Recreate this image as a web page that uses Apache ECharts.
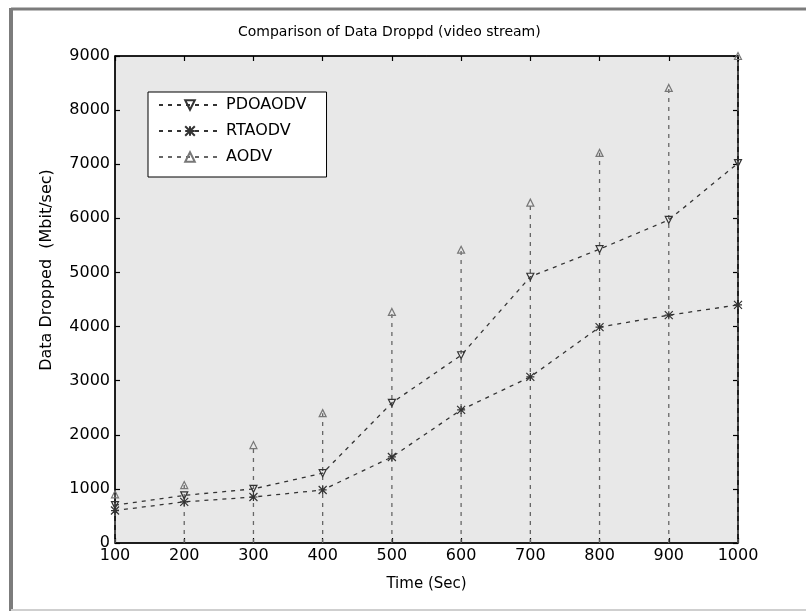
<!DOCTYPE html>
<html>
<head>
<meta charset="utf-8">
<script src="https://cdn.jsdelivr.net/npm/echarts@6/dist/echarts.min.js"></script>
<style>
  html, body { margin: 0; padding: 0; background: #fff; }
  #chart { width: 806px; height: 612px; }
</style>
</head>
<body>
<div id="chart"></div>
<script>
// Simulation time points (seconds)
const times = [100, 200, 300, 400, 500, 600, 700, 800, 900, 1000];
// Data dropped per protocol (Mbit/sec)
const pdoaodv = [700, 880, 1000, 1290, 2590, 3470, 4920, 5430, 5970, 7020];
const rtaodv = [600, 760, 850, 980, 1590, 2460, 3070, 3990, 4210, 4400];
const aodv = [900, 1070, 1810, 2400, 4270, 5420, 6290, 7210, 8410, 9000];

const xTicks = { min: 100, max: 1000, step: 100 };
const yTicks = { min: 0, max: 9000, step: 1000 };

const FONT = 'DejaVu Sans';
const pair = (vals) => times.map((t, i) => [t, vals[i]]);
const plain = (v) => String(v);

// AODV is drawn as vertical dashed stems from zero up to each value
const aodvStems = [];
times.forEach((t, i) => {
  aodvStems.push({ value: [t, 0], symbol: 'none' });
  aodvStems.push({ value: [t, aodv[i]] });
  aodvStems.push({ value: [t, '-'], symbol: 'none' });
});

const chart = echarts.init(document.getElementById('chart'), null, { renderer: 'canvas' });

const baseAxis = {
  axisLine: { show: true, onZero: false, lineStyle: { color: '#000', width: 1.5 } },
  axisTick: { show: true, inside: true, length: 5, lineStyle: { color: '#000', width: 1.2 } },
  splitLine: { show: false }
};

chart.setOption({
  animation: false,
  backgroundColor: '#fff',
  title: {
    text: 'Comparison of Data Droppd (video stream)',
    left: 233,
    top: 20,
    textStyle: { fontFamily: FONT, fontSize: 14, fontWeight: 'normal', color: '#000' }
  },
  grid: {
    left: 115, right: 68, top: 56, bottom: 69,
    show: true,
    backgroundColor: '#e8e8e8',
    borderColor: '#000',
    borderWidth: 1
  },
  legend: {
    orient: 'vertical',
    left: 148,
    top: 92,
    backgroundColor: '#fff',
    borderColor: '#000',
    borderWidth: 1,
    borderRadius: 0,
    padding: [5, 20, 12, 10],
    itemWidth: 62,
    itemHeight: 12,
    itemGap: 10,
    textStyle: { fontFamily: FONT, fontSize: 16, color: '#000' },
    data: ['PDOAODV', 'RTAODV', 'AODV']
  },
  xAxis: [
    Object.assign({}, baseAxis, {
      type: 'value',
      min: xTicks.min, max: xTicks.max, interval: xTicks.step,
      name: 'Time (Sec)',
      nameLocation: 'middle',
      nameGap: 34,
      nameTextStyle: { fontFamily: FONT, fontSize: 15, color: '#000' },
      axisLabel: { fontFamily: FONT, fontSize: 16, color: '#000', margin: 5, formatter: plain }
    }),
    Object.assign({}, baseAxis, {
      type: 'value', position: 'top',
      min: xTicks.min, max: xTicks.max, interval: xTicks.step,
      axisLabel: { show: false }
    })
  ],
  yAxis: [
    Object.assign({}, baseAxis, {
      type: 'value',
      min: yTicks.min, max: yTicks.max, interval: yTicks.step,
      axisLabel: { fontFamily: FONT, fontSize: 16, color: '#000', margin: 5, formatter: plain }
    }),
    Object.assign({}, baseAxis, {
      type: 'value', position: 'right',
      min: yTicks.min, max: yTicks.max, interval: yTicks.step,
      axisLabel: { show: false }
    })
  ],
  graphic: [
    // outer figure frame
    { type: 'line', shape: { x1: 11, y1: 9, x2: 806, y2: 9 }, style: { stroke: '#7c7c7c', lineWidth: 3 }, silent: true },
    { type: 'line', shape: { x1: 11, y1: 8, x2: 11, y2: 611 }, style: { stroke: '#7c7c7c', lineWidth: 4 }, silent: true },
    { type: 'line', shape: { x1: 11, y1: 610, x2: 806, y2: 610 }, style: { stroke: '#cfcfcf', lineWidth: 2 }, silent: true },
    {
      type: 'text',
      x: 47, y: 270,
      rotation: Math.PI / 2,
      style: {
        text: 'Data Dropped  (Mbit/sec)',
        fontFamily: FONT, fontSize: 16, fill: '#000',
        align: 'center', verticalAlign: 'middle'
      }
    }
  ],
  series: [
    {
      name: 'AODV',
      type: 'line',
      data: aodvStems,
      connectNulls: false,
      symbol: 'triangle',
      symbolSize: 7,
      lineStyle: { color: '#666', width: 1.3, type: [4, 5] },
      itemStyle: { color: 'transparent', borderColor: '#777', borderWidth: 1.2 },
      z: 2
    },
    {
      name: 'PDOAODV',
      type: 'line',
      data: pair(pdoaodv),
      symbol: 'triangle',
      symbolRotate: 180,
      symbolSize: 7,
      lineStyle: { color: '#333', width: 1.3, type: [4, 5] },
      itemStyle: { color: 'transparent', borderColor: '#333', borderWidth: 1.2 },
      z: 3
    },
    {
      name: 'RTAODV',
      type: 'line',
      data: pair(rtaodv),
      symbol: 'path://M0,0L10,10M10,0L0,10M5,0L5,10M0,5L10,5',
      symbolSize: 8,
      lineStyle: { color: '#333', width: 1.3, type: [4, 5] },
      itemStyle: { color: 'transparent', borderColor: '#333', borderWidth: 1.2 },
      z: 3
    }
  ]
});
</script>
</body>
</html>
